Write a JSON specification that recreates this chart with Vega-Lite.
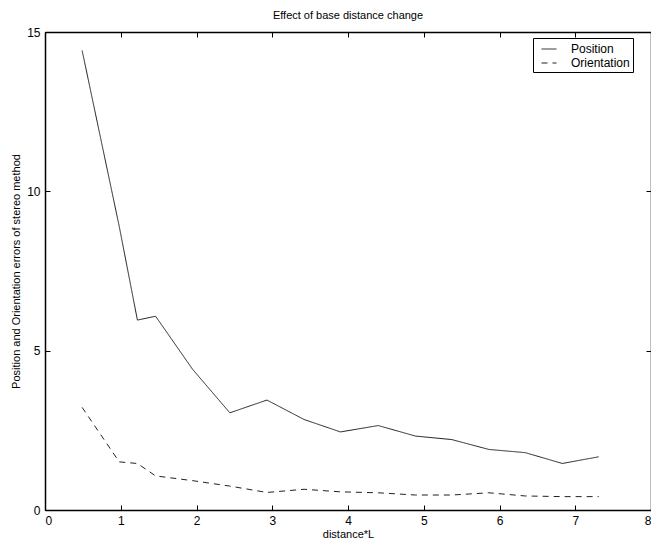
{
  "$schema": "https://vega.github.io/schema/vega-lite/v6.json",
  "width": 606,
  "height": 478,
  "autosize": {"type": "none"},
  "padding": {"left": 45, "top": 32, "right": 0, "bottom": 36},
  "background": "white",
  "title": {"text": "Effect of base distance change", "fontSize": 11, "fontWeight": "normal", "font": "Liberation Sans", "offset": 5, "color": "black"},
  "data": {"values": [
    {"x": 0.49, "series": "Position", "value": 14.42},
    {"x": 0.98, "series": "Position", "value": 8.9},
    {"x": 1.22, "series": "Position", "value": 5.96},
    {"x": 1.46, "series": "Position", "value": 6.08},
    {"x": 1.95, "series": "Position", "value": 4.41},
    {"x": 2.44, "series": "Position", "value": 3.05},
    {"x": 2.93, "series": "Position", "value": 3.45},
    {"x": 3.42, "series": "Position", "value": 2.84},
    {"x": 3.9, "series": "Position", "value": 2.45},
    {"x": 4.4, "series": "Position", "value": 2.65},
    {"x": 4.89, "series": "Position", "value": 2.32},
    {"x": 5.37, "series": "Position", "value": 2.21},
    {"x": 5.86, "series": "Position", "value": 1.9},
    {"x": 6.34, "series": "Position", "value": 1.8},
    {"x": 6.83, "series": "Position", "value": 1.46},
    {"x": 7.31, "series": "Position", "value": 1.67},
    {"x": 0.49, "series": "Orientation", "value": 3.22},
    {"x": 0.98, "series": "Orientation", "value": 1.51},
    {"x": 1.22, "series": "Orientation", "value": 1.46},
    {"x": 1.46, "series": "Orientation", "value": 1.07},
    {"x": 1.95, "series": "Orientation", "value": 0.92},
    {"x": 2.44, "series": "Orientation", "value": 0.75},
    {"x": 2.93, "series": "Orientation", "value": 0.55},
    {"x": 3.42, "series": "Orientation", "value": 0.65},
    {"x": 3.9, "series": "Orientation", "value": 0.57},
    {"x": 4.4, "series": "Orientation", "value": 0.54},
    {"x": 4.89, "series": "Orientation", "value": 0.47},
    {"x": 5.37, "series": "Orientation", "value": 0.47},
    {"x": 5.86, "series": "Orientation", "value": 0.54},
    {"x": 6.34, "series": "Orientation", "value": 0.44},
    {"x": 6.83, "series": "Orientation", "value": 0.42},
    {"x": 7.31, "series": "Orientation", "value": 0.42}
  ]},
  "layer": [
    {
      "mark": {"type": "line", "color": "#222222", "strokeWidth": 1},
      "encoding": {
        "x": {"field": "x", "type": "quantitative", "scale": {"domain": [0, 8], "nice": false},
              "axis": {"orient": "bottom", "title": "distance*L", "values": [0, 1, 2, 3, 4, 5, 6, 7, 8], "labelPadding": 10, "titlePadding": 2}},
        "y": {"field": "value", "type": "quantitative", "scale": {"domain": [0, 15], "nice": false},
              "axis": {"orient": "left", "title": "Position and Orientation errors of stereo method", "values": [0, 5, 10, 15], "labelPadding": 10, "titlePadding": 5}},
        "strokeDash": {"field": "series", "type": "nominal",
              "scale": {"domain": ["Position", "Orientation"], "range": [[1, 0], [6, 5]]},
              "legend": {"title": null, "orient": "none", "legendX": 488, "legendY": 6,
                         "strokeColor": "black", "fillColor": "white", "cornerRadius": 0,
                         "padding": 3, "symbolType": "stroke", "symbolSize": 225, "symbolOffset": 5,
                         "symbolStrokeColor": "#222222", "symbolStrokeWidth": 1,
                         "labelFontSize": 12, "labelFont": "Liberation Sans", "labelColor": "black",
                         "labelExpr": "datum.label + '\u00a0\u00a0\u00a0'",
                         "labelOffset": 14, "rowPadding": 0}}
      }
    },
    {
      "mark": {"type": "point", "opacity": 0},
      "encoding": {
        "x": {"field": "x", "type": "quantitative", "scale": {"domain": [0, 8], "nice": false},
              "axis": {"orient": "top", "title": null, "labels": false, "values": [0, 1, 2, 3, 4, 5, 6, 7, 8]}},
        "y": {"field": "value", "type": "quantitative", "scale": {"domain": [0, 15], "nice": false},
              "axis": {"orient": "right", "title": null, "labels": false, "values": [0, 5, 10, 15]}}
      }
    }
  ],
  "resolve": {"axis": {"x": "independent", "y": "independent"}},
  "config": {
    "font": "Liberation Sans",
    "view": {"stroke": "black", "strokeWidth": 1},
    "axis": {
      "grid": false,
      "domainColor": "black",
      "domainWidth": 1.5,
      "tickColor": "black",
      "tickSize": -5,
      "tickWidth": 1,
      "labelFontSize": 12,
      "labelColor": "black",
      "labelFont": "Liberation Sans",
      "titleFontSize": 11,
      "titleFontWeight": "normal",
      "titleColor": "black",
      "titleFont": "Liberation Sans"
    }
  }
}
